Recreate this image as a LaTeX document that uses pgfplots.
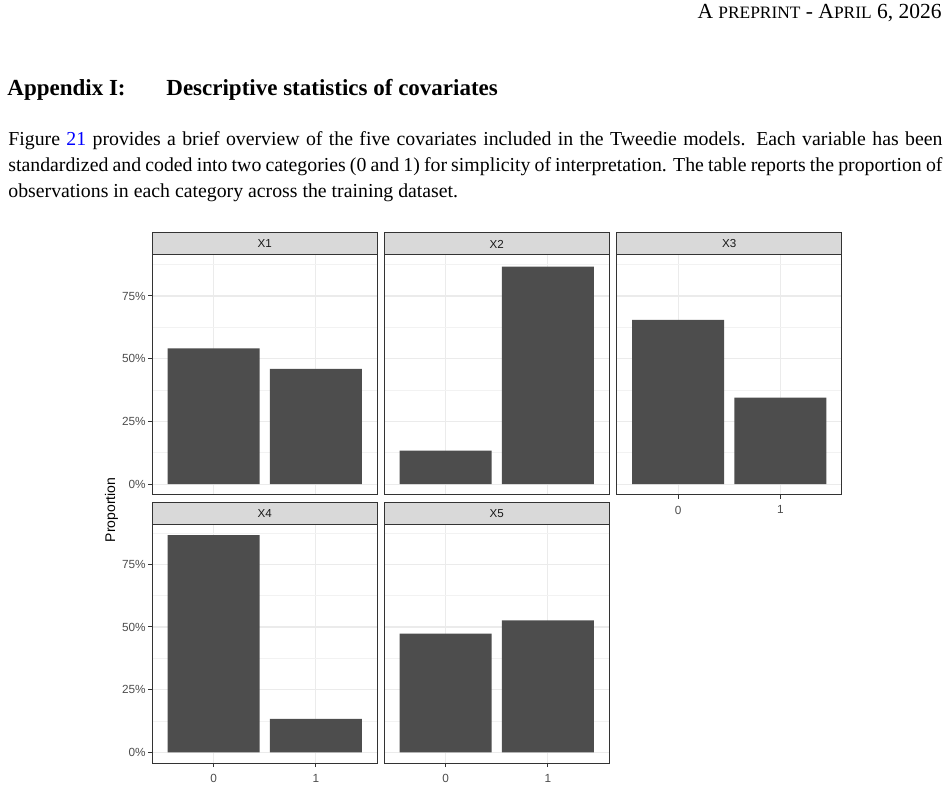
\documentclass[border=0pt]{standalone}
\usepackage{fontspec}
\setmainfont{Liberation Serif}
\newfontfamily\arial{Liberation Sans}
\usepackage{pgfplots}
\pgfplotsset{compat=1.18}
\definecolor{gtwenty}{HTML}{333333}
\definecolor{gthirty}{HTML}{4D4D4D}
\definecolor{gridmaj}{HTML}{EBEBEB}
\definecolor{gridmin}{HTML}{F2F2F2}
\definecolor{stripfill}{HTML}{D9D9D9}
\definecolor{linkblue}{HTML}{0000FF}
\newcommand\scsmall[1]{{\fontsize{8.7}{9}\selectfont #1}}
\pgfplotsset{
 facet/.style={
  scale only axis, width=112.5pt, height=120pt,
  xmin=-0.6, xmax=1.6, ymin=-0.0435, ymax=0.9135,
  xtick={0,1}, ytick={0,0.25,0.5,0.75},
  minor ytick={0.125,0.375,0.625,0.875},
  grid=both,
  major grid style={draw=gridmaj, line width=0.55pt},
  minor grid style={draw=gridmin, line width=0.4pt},
  axis line style={draw=gtwenty, line width=0.5pt},
  tick style={draw=gtwenty, line width=0.5pt},
  tick align=outside, xtick pos=bottom, ytick pos=left,
  major tick length=1.9pt, minor tick length=0pt,
  ticklabel style={font=\arial\fontsize{5.9}{6.5}\selectfont, text=gthirty},
  yticklabel style={inner xsep=1.2pt},
  xticklabels={0,1}, yticklabels={0\%,25\%,50\%,75\%},
  ybar, bar width=0.9, bar shift=0pt,
 },
 notx/.style={xticklabels={}, xtick style={draw=none}},
 noty/.style={yticklabels={}, ytick style={draw=none}},
}
\begin{document}
\begin{tikzpicture}[x=0.5pt,y=0.5pt]
\path (0,0) rectangle (950,786);
% page text
\node[anchor=base east, inner sep=0] at (942,767) {\fontsize{10.75}{12}\selectfont A \scsmall{PREPRINT} - A\scsmall{PRIL} 6, 2026};
\node[anchor=base west, inner sep=0] at (7,690.3) {\fontsize{11.5}{13}\selectfont\bfseries Appendix I:};
\node[anchor=base west, inner sep=0] at (166,690.3) {\fontsize{11.5}{13}\selectfont\bfseries Descriptive statistics of covariates};
\node[anchor=base west, inner sep=0] at (8,640) {\fontsize{9.9}{11}\selectfont\makebox[467pt][s]{Figure \textcolor{linkblue}{21} provides a brief overview of the five covariates included in the Tweedie models. Each variable has been}};
\node[anchor=base west, inner sep=0] at (8,614) {\fontsize{9.9}{11}\selectfont\makebox[467pt][s]{standardized and coded into two categories (0 and 1) for simplicity of interpretation. The table reports the proportion of}};
\node[anchor=base west, inner sep=0] at (8,588) {\fontsize{9.9}{11}\selectfont observations in each category across the training dataset.};

% X1
\begin{axis}[facet, notx, at={(76.15pt,145.5pt)}, anchor=south west]
\addplot[fill=gthirty, draw=none] coordinates {(0,0.541) (1,0.459)};
\end{axis}
% X2
\begin{axis}[facet, notx, noty, at={(192.15pt,145.5pt)}, anchor=south west]
\addplot[fill=gthirty, draw=none] coordinates {(0,0.133) (1,0.867)};
\end{axis}
% X3
\begin{axis}[facet, noty, at={(308.35pt,145.5pt)}, anchor=south west]
\addplot[fill=gthirty, draw=none] coordinates {(0,0.655) (1,0.345)};
\end{axis}
% X4
\begin{axis}[facet, at={(76.15pt,11.35pt)}, anchor=south west]
\addplot[fill=gthirty, draw=none] coordinates {(0,0.866) (1,0.134)};
\end{axis}
% X5
\begin{axis}[facet, noty, at={(192.15pt,11.35pt)}, anchor=south west]
\addplot[fill=gthirty, draw=none] coordinates {(0,0.474) (1,0.526)};
\end{axis}

% strips
\foreach \xl/\yt/\lab in {152.3/553/X1, 384.3/553/X2, 616.7/553/X3, 152.3/283.7/X4, 384.3/283.7/X5}{
  \draw[fill=stripfill, draw=gtwenty, line width=0.5pt] (\xl,\yt) rectangle ({\xl+225},{\yt-22});
  \node[font=\arial\fontsize{5.8}{6.5}\selectfont, text=black!90, inner sep=0] at ({\xl+112.5},{\yt-11}) {\lab};
}
\node[rotate=90, font=\arial\fontsize{7}{8}\selectfont, inner sep=0] at (111.5,276) {Proportion};
\end{tikzpicture}
\end{document}
